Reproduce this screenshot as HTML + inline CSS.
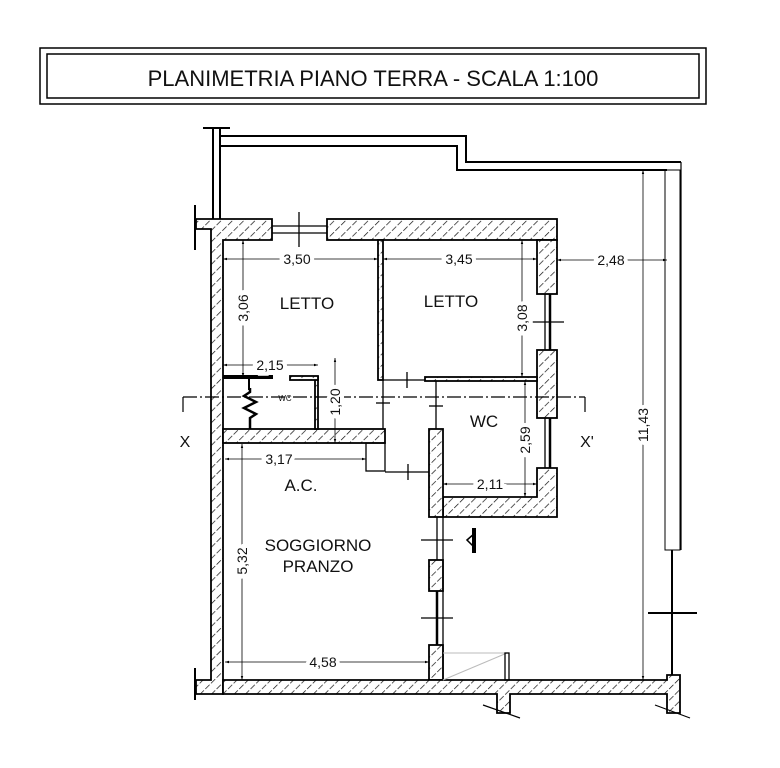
<!DOCTYPE html>
<html><head><meta charset="utf-8"><style>
html,body{margin:0;padding:0;background:#fff;}
svg{display:block;}
text{font-family:"Liberation Sans",Arial,sans-serif;fill:#111;}
</style></head><body>
<svg width="780" height="768" viewBox="0 0 780 768" xmlns="http://www.w3.org/2000/svg">
<defs>
<pattern id="h" patternUnits="userSpaceOnUse" width="8" height="8" patternTransform="rotate(45)">
<rect width="8" height="8" fill="#fff"/>
<line x1="0" y1="0" x2="0" y2="8" stroke="#111" stroke-width="1.4" stroke-dasharray="6,2"/>
</pattern>
<marker id="a" viewBox="0 0 10 10" refX="10" refY="5" markerWidth="7" markerHeight="5" orient="auto-start-reverse">
<path d="M0,2 L10,5 L0,8 Z" fill="#000"/>
</marker>
</defs>
<rect width="780" height="768" fill="#fff"/>
<!-- title -->
<rect x="40" y="48" width="666" height="56" fill="none" stroke="#000" stroke-width="1.5"/>
<rect x="47" y="54" width="652" height="44" fill="none" stroke="#000" stroke-width="1.5"/>
<text x="373" y="86" font-size="22" text-anchor="middle">PLANIMETRIA PIANO TERRA - SCALA 1:100</text>

<!-- outer boundary -->
<g fill="none" stroke="#000" stroke-width="2">
<line x1="203" y1="128" x2="230" y2="128"/>
<line x1="213" y1="128" x2="213" y2="219"/>
<line x1="220" y1="128" x2="220" y2="219"/>
<polyline points="220,136 466,136 466,162 681,162"/>
<polyline points="220,146 457,146 457,170 667,170"/>
<line x1="681" y1="162" x2="681" y2="550" stroke-width="1.2"/>
<rect x="665" y="170" width="15" height="380" stroke-width="1"/>
<line x1="672" y1="550" x2="672" y2="676"/>
<line x1="648" y1="613" x2="697" y2="613"/>
<line x1="195" y1="205" x2="195" y2="250"/>
<line x1="195" y1="668" x2="195" y2="700"/>
</g>

<!-- walls -->
<g fill="url(#h)" stroke="#000" stroke-width="1.8">
<path d="M196,219 H272 V240 H223 V694 H196 V680 H211 V229 H196 Z"/>
<rect x="327" y="219" width="230" height="21"/>
<rect x="537" y="240" width="20" height="54"/>
<rect x="537" y="350" width="20" height="68"/>
<path d="M537,468 H557 V517 H443 V497 H537 Z"/>
<rect x="429" y="429" width="14" height="88"/>
<rect x="223" y="429" width="162" height="14"/>
<rect x="429" y="560" width="14" height="31"/>
<rect x="429" y="645" width="14" height="35"/>
<path d="M223,680 H667 V675 H680 V713 H667 V694 H510 V713 H497 V694 H223 Z"/>
<rect x="378" y="240" width="5" height="140"/>
<rect x="425" y="377" width="112" height="4"/>
<rect x="315" y="377" width="3" height="52"/>
<rect x="290" y="376" width="28" height="4"/>
</g>
<g stroke="#000" stroke-width="1.2">
<line x1="483" y1="705" x2="520" y2="718"/>
<line x1="655" y1="705" x2="690" y2="718"/>
</g>

<!-- windows / doors -->
<g fill="none" stroke="#000" stroke-width="1.3">
<line x1="272" y1="226" x2="327" y2="226"/><line x1="272" y1="233" x2="327" y2="233"/>
<line x1="299" y1="212" x2="299" y2="247"/>
<line x1="545" y1="294" x2="545" y2="350"/><line x1="550" y1="294" x2="550" y2="350" stroke-width="2.5"/>
<line x1="530" y1="322" x2="564" y2="322"/>
<line x1="545" y1="418" x2="545" y2="468"/><line x1="550" y1="418" x2="550" y2="468" stroke-width="2.5"/>
<line x1="443" y1="517" x2="443" y2="680"/>
<line x1="437" y1="517" x2="437" y2="560"/>
<line x1="437" y1="591" x2="437" y2="645" stroke-width="2.5"/>
<line x1="421" y1="540" x2="453" y2="540"/>
<line x1="421" y1="618" x2="453" y2="618"/>
<line x1="383" y1="380" x2="383" y2="429"/><line x1="376" y1="403" x2="390" y2="403"/>
<line x1="383" y1="380" x2="425" y2="380"/><line x1="407" y1="372" x2="407" y2="388"/>
<line x1="436" y1="381" x2="436" y2="429"/><line x1="429" y1="406" x2="443" y2="406"/>
<rect x="366" y="443" width="19" height="28"/>
<line x1="385" y1="472" x2="429" y2="472"/><line x1="408" y1="464" x2="408" y2="480"/>
<line x1="443" y1="653" x2="507" y2="653" stroke="#bbb" stroke-width="1"/>
<line x1="443" y1="680" x2="507" y2="653" stroke="#bbb" stroke-width="1"/>
<rect x="505" y="653" width="4" height="27"/>
<line x1="223" y1="377" x2="273" y2="377" stroke-width="4"/>
<polyline points="250,388 250,392 244,396 256,402 244,408 256,414 250,418 250,429" stroke-width="2.5"/>
<line x1="249" y1="377" x2="249" y2="390" stroke-width="2"/>
</g>
<path d="M467,540 L475,533 L475,548 Z" fill="none" stroke="#000" stroke-width="1.5"/>
<rect x="472" y="528" width="4" height="25" fill="#000"/>
<text x="285" y="401" font-size="8" text-anchor="middle">WC</text>

<!-- section line -->
<g fill="none" stroke="#000" stroke-width="1.2">
<line x1="183" y1="397" x2="585" y2="397" stroke-dasharray="14,3,2,3"/>
<line x1="183" y1="397" x2="183" y2="412"/>
<line x1="585" y1="397" x2="585" y2="412"/>
</g>
<text x="185" y="447" font-size="16" text-anchor="middle">X</text>
<text x="587" y="447" font-size="16" text-anchor="middle">X'</text>

<!-- dimensions -->
<g fill="none" stroke="#000" stroke-width="0.8" marker-start="url(#a)" marker-end="url(#a)">
<line x1="223" y1="259" x2="378" y2="259"/>
<line x1="383" y1="259" x2="537" y2="259"/>
<line x1="557" y1="260" x2="667" y2="260"/>
<line x1="243" y1="240" x2="243" y2="377"/>
<line x1="522" y1="240" x2="522" y2="377"/>
<line x1="223" y1="365" x2="318" y2="365"/>
<line x1="335" y1="358" x2="335" y2="443"/>
<line x1="525" y1="381" x2="525" y2="497"/>
<line x1="225" y1="459" x2="366" y2="459"/>
<line x1="443" y1="484" x2="537" y2="484"/>
<line x1="242" y1="444" x2="242" y2="680"/>
<line x1="225" y1="662" x2="429" y2="662"/>
<line x1="643" y1="170" x2="643" y2="680"/>
</g>
<g font-size="14" text-anchor="middle">
<text x="297" y="264" style="paint-order:stroke" stroke="#fff" stroke-width="8">3,50</text>
<text x="459" y="264" style="paint-order:stroke" stroke="#fff" stroke-width="8">3,45</text>
<text x="611" y="265" style="paint-order:stroke" stroke="#fff" stroke-width="8">2,48</text>
<text x="270" y="370" style="paint-order:stroke" stroke="#fff" stroke-width="8">2,15</text>
<text x="279" y="464" style="paint-order:stroke" stroke="#fff" stroke-width="8">3,17</text>
<text x="490" y="489" style="paint-order:stroke" stroke="#fff" stroke-width="8">2,11</text>
<text x="323" y="667" style="paint-order:stroke" stroke="#fff" stroke-width="8">4,58</text>
<text transform="translate(248,308) rotate(-90)" style="paint-order:stroke" stroke="#fff" stroke-width="8">3,06</text>
<text transform="translate(527,318) rotate(-90)" style="paint-order:stroke" stroke="#fff" stroke-width="8">3,08</text>
<text transform="translate(340,402) rotate(-90)" style="paint-order:stroke" stroke="#fff" stroke-width="8">1,20</text>
<text transform="translate(530,440) rotate(-90)" style="paint-order:stroke" stroke="#fff" stroke-width="8">2,59</text>
<text transform="translate(247,561) rotate(-90)" style="paint-order:stroke" stroke="#fff" stroke-width="8">5,32</text>
<text transform="translate(648,425) rotate(-90)" style="paint-order:stroke" stroke="#fff" stroke-width="8">11,43</text>
</g>

<!-- room labels -->
<g font-size="17" text-anchor="middle">
<text x="307" y="309">LETTO</text>
<text x="451" y="307">LETTO</text>
<text x="484" y="427">WC</text>
<text x="301" y="491">A.C.</text>
<text x="318" y="551">SOGGIORNO</text>
<text x="318" y="572">PRANZO</text>
</g>
</svg>
</body></html>
